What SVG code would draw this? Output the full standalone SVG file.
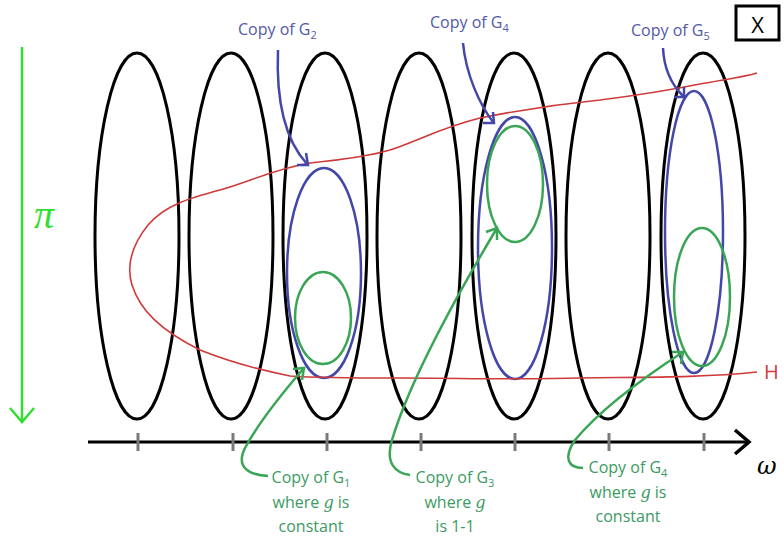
<svg xmlns="http://www.w3.org/2000/svg" width="784" height="536" viewBox="0 0 784 536">
<style>
.blk{fill:none;stroke:#000;stroke-width:3}
.blu{fill:none;stroke:#4348a8;stroke-width:2.5}
.grn{fill:none;stroke:#3aa655;stroke-width:2.5}
.red{fill:none;stroke:#d03a3a;stroke-width:1.6}
.tick{stroke:#7a7a7a;stroke-width:3}
.tb{font-family:"Open Sans","Noto Sans",sans-serif;font-size:16px;fill:#5458a8}
.tg{font-family:"Open Sans","Noto Sans",sans-serif;font-size:16px;fill:#3c9a62;text-anchor:middle}
.sub{font-size:11px}
.gi{font-family:"DejaVu Serif",serif;font-style:italic}
</style>
<rect width="784" height="536" fill="#fff"/>
<g id="fibers">
<ellipse class="blk" cx="137" cy="236" rx="42" ry="183"/>
<ellipse class="blk" cx="231" cy="236" rx="42" ry="183"/>
<ellipse class="blk" cx="325" cy="236" rx="42" ry="183"/>
<ellipse class="blk" cx="419" cy="236" rx="42" ry="183"/>
<ellipse class="blk" cx="514" cy="236" rx="42" ry="183"/>
<ellipse class="blk" cx="608" cy="236" rx="42" ry="183"/>
<ellipse class="blk" cx="703" cy="236" rx="42" ry="183"/>
</g>
<g id="copies">
<ellipse class="blu" cx="324" cy="273" rx="37" ry="105"/>
<ellipse class="grn" cx="323" cy="318" rx="28" ry="46"/>
<ellipse class="blu" cx="515" cy="248" rx="37" ry="131"/>
<ellipse class="grn" cx="515" cy="184" rx="28" ry="58"/>
<ellipse class="blu" cx="694" cy="232" rx="29" ry="141"/>
<ellipse class="grn" cx="702" cy="297" rx="28" ry="69"/>
</g>
<g id="H">
<path class="red" d="M757,73 C740,78 720,80 700,84 C670,90 640,95 600,100 C560,104 520,110 480,118 C440,128 420,140 390,150 C370,156 340,160 310,163 C270,170 250,182 220,190 C190,198 165,205 148,225 C132,245 126,265 132,285 C140,310 160,330 200,350 C230,362 260,370 290,376 C320,378 360,378 400,378 C460,378 520,380 580,378 C640,377 700,378 757,372"/>
<text x="764" y="379" font-family="Open Sans, Noto Sans, sans-serif" font-size="20" fill="#d03a3a">H</text>
</g>
<g id="axis">
<line x1="88" y1="442" x2="748" y2="442" stroke="#000" stroke-width="3"/>
<polyline points="735,430 749,442 735,454" fill="none" stroke="#000" stroke-width="3.5"/>
<line class="tick" x1="138" y1="433" x2="138" y2="451"/>
<line class="tick" x1="233" y1="433" x2="233" y2="451"/>
<line class="tick" x1="327" y1="433" x2="327" y2="451"/>
<line class="tick" x1="421" y1="433" x2="421" y2="451"/>
<line class="tick" x1="515" y1="433" x2="515" y2="451"/>
<line class="tick" x1="609" y1="433" x2="609" y2="451"/>
<line class="tick" x1="704" y1="433" x2="704" y2="451"/>
<text x="757" y="474" font-family="DejaVu Serif, serif" font-style="italic" font-size="24" fill="#000">ω</text>
</g>
<g id="pi">
<line x1="22" y1="47" x2="22" y2="422" stroke="#33dd33" stroke-width="2.5"/>
<polyline points="10,408 22,422 34,408" fill="none" stroke="#33dd33" stroke-width="2.5"/>
<text x="34" y="228" font-family="Liberation Serif, serif" font-style="italic" font-size="40" fill="#33dd33">π</text>
</g>
<g id="X">
<rect x="736" y="6" width="43" height="34" fill="#fff" stroke="#000" stroke-width="3"/>
<text x="757.5" y="33" text-anchor="middle" font-family="Open Sans, Noto Sans, sans-serif" font-size="22" fill="#000">X</text>
</g>
<g id="connectors">
<path class="blu" d="M278,50 C276,100 285,140 307,164"/>
<polyline class="blu" points="297,165 308,165 306,153"/>
<path class="blu" d="M463,43 C466,75 480,105 493,122"/>
<polyline class="blu" points="483,123 494,123 493,112"/>
<path class="blu" d="M663,48 C664,70 672,85 683,96"/>
<polyline class="blu" points="674,97 684,97 684,87"/>
<path class="grn" d="M268,476 C250,475 235,468 245,448 C260,420 285,390 304,368"/>
<polyline class="grn" points="293,369 304,368 302,380"/>
<path class="grn" d="M410,475 C395,473 385,463 392,440 C410,380 460,290 497,228"/>
<polyline class="grn" points="486,232 497,228 497,240"/>
<path class="grn" d="M583,468 C568,468 563,458 575,440 C600,410 640,380 683,352"/>
<polyline class="grn" points="672,352 683,352 681,364"/>
</g>
<g id="labels">
<text class="tb" x="238" y="35">Copy of G<tspan class="sub" dy="4">2</tspan></text>
<text class="tb" x="430" y="28">Copy of G<tspan class="sub" dy="4">4</tspan></text>
<text class="tb" x="631" y="36">Copy of G<tspan class="sub" dy="4">5</tspan></text>
<text class="tg" x="311" y="483">Copy of G<tspan class="sub" dy="4">1</tspan></text>
<text class="tg" x="311" y="508">where <tspan class="gi">g</tspan> is</text>
<text class="tg" x="311" y="532">constant</text>
<text class="tg" x="455" y="483">Copy of G<tspan class="sub" dy="4">3</tspan></text>
<text class="tg" x="455" y="508">where <tspan class="gi">g</tspan></text>
<text class="tg" x="455" y="532">is 1-1</text>
<text class="tg" x="628" y="473">Copy of G<tspan class="sub" dy="4">4</tspan></text>
<text class="tg" x="628" y="498">where <tspan class="gi">g</tspan> is</text>
<text class="tg" x="628" y="522">constant</text>
</g>
</svg>
